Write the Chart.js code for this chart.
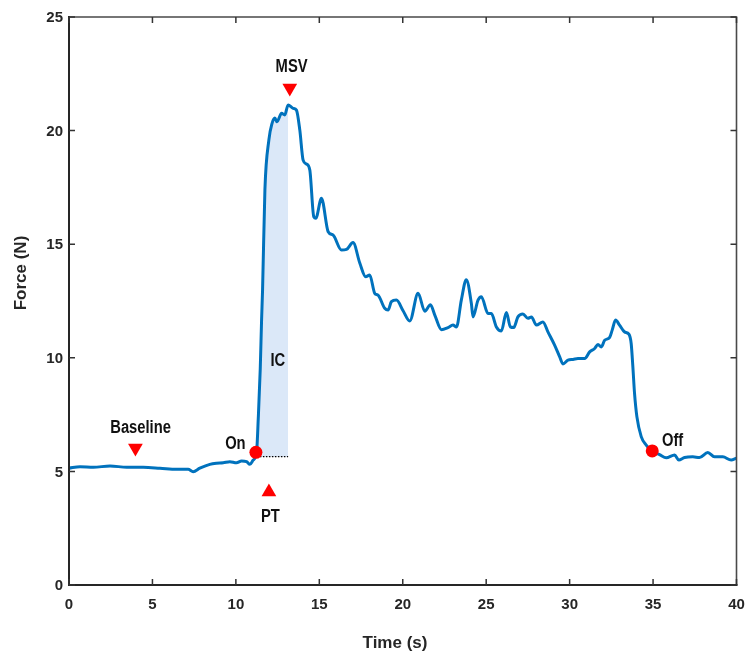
<!DOCTYPE html>
<html>
<head>
<meta charset="utf-8">
<script src="https://cdn.jsdelivr.net/npm/chart.js@4/dist/chart.umd.min.js"></script>
<style>
  html, body { margin: 0; padding: 0; background: #ffffff; overflow: hidden; }
  #wrap { width: 745px; height: 652px; position: relative; }
</style>
</head>
<body>
<div id="wrap"><canvas id="c"></canvas></div>
<script>
// ---- data ----
const timeS = [0,0.66,1.46,2.46,3.46,4.45,5.45,6.45,7.14,7.44,
  7.84,8.44,8.84,9.24,9.64,10.04,10.34,10.64,10.84,11.04,
  11.24,11.34,11.46,11.54,11.6,11.74,11.98,12.16,12.34,12.46,
  12.74,12.93,13.13,13.43,13.63,13.83,14.03,14.23,14.43,14.67,
  14.79,15.13,15.53,15.83,16.33,16.63,17.02,17.43,17.78,18.02,
  18.32,18.52,18.92,19.12,19.32,19.62,20.02,20.42,20.92,21.32,
  21.66,21.92,22.32,22.71,23.01,23.22,23.51,23.81,24.11,24.21,
  24.51,24.71,25.11,25.31,25.61,25.91,26.21,26.45,26.65,26.9,
  27.2,27.5,27.71,28.01,28.4,28.7,29.1,29.4,29.6,29.9,
  30.2,30.5,30.9,31.2,31.5,31.7,31.9,32.1,32.4,32.56,
  32.75,32.99,33.29,33.55,33.69,33.79,33.89,34.03,34.29,34.59,
  34.95,35.39,35.79,36.29,36.54,36.89,37.38,37.78,38.28,38.68,
  39.18,39.68,40];
const forceN = [5.14,5.21,5.18,5.24,5.18,5.18,5.14,5.09,5.09,4.99,
  5.14,5.31,5.36,5.38,5.43,5.38,5.46,5.43,5.31,5.50,
  5.84,7.3,9.5,11.66,13.0,17.4,19.6,20.3,20.55,20.39,
  20.76,20.69,21.13,20.98,20.9,20.03,18.7,18.53,18.27,16.2,
  16.14,17.02,15.55,15.4,14.74,14.77,15.07,14.16,13.57,13.64,
  12.84,12.76,12.18,12.1,12.47,12.54,12.07,11.62,12.84,12.05,
  12.33,11.88,11.24,11.33,11.44,11.36,12.54,13.44,12.4,11.8,
  12.54,12.69,11.95,11.95,11.36,11.18,11.99,11.36,11.33,11.8,
  11.93,11.74,11.8,11.44,11.58,11.14,10.56,10.05,9.73,9.9,
  9.93,9.97,9.97,10.26,10.41,10.59,10.48,10.77,10.9,11.24,
  11.66,11.44,11.14,11.04,10.62,9.6,8.43,7.41,6.53,6.16,
  5.88,5.74,5.6,5.72,5.5,5.61,5.64,5.61,5.83,5.64,
  5.64,5.5,5.58];

const xTicks = [0,5,10,15,20,25,30,35,40];
const yTicks = [0,5,10,15,20,25];

// event markers
const onsetT = 11.2,  onsetF = 5.84;
const offsetT = 34.95, offsetF = 5.90;
const icStartT = 11.24, icEndT = 13.13, icLevel = 5.65;
const dotLineT = [11.44, 13.13];
const downTriT = [13.23, 3.98];   // MSV, Baseline
const downTriF = [21.88, 6.03];
const upTriT = [11.98];           // PT
const upTriF = [4.09];

// text labels
const labelText = ["MSV", "Baseline", "On", "IC", "PT", "Off"];
const labelT    = [13.34, 4.29, 9.97, 12.51, 12.07, 36.17];
const labelF    = [22.78, 6.90, 6.21, 9.84, 3.01, 6.34];

// ---- build datasets ----
const curve = timeS.map((t, i) => ({x: t, y: forceN[i]}));
const icArea = curve.filter(p => p.x >= icStartT && p.x <= icEndT);

const BLUE = 'rgb(0,114,189)';
const RED = '#ff0000';

const axisPlugin = {
  id: 'matlabAxes',
  afterDraw(chart) {
    const ctx = chart.ctx;
    const xs = chart.scales.x, ys = chart.scales.y;
    const a = chart.chartArea;
    ctx.save();
    // box: top/right lighter, left/bottom darker
    ctx.lineCap = 'square';
    ctx.strokeStyle = '#4a4a4a';
    ctx.lineWidth = 1.6;
    ctx.beginPath();
    ctx.moveTo(a.left, a.top); ctx.lineTo(a.right, a.top); ctx.lineTo(a.right, a.bottom);
    ctx.stroke();
    ctx.strokeStyle = '#262626';
    ctx.lineWidth = 2;
    ctx.beginPath();
    ctx.moveTo(a.left, a.top); ctx.lineTo(a.left, a.bottom); ctx.lineTo(a.right, a.bottom);
    ctx.stroke();
    // inward ticks
    ctx.lineCap = 'butt';
    ctx.strokeStyle = '#333333';
    ctx.lineWidth = 1.5;
    const tl = 6;
    ctx.beginPath();
    xTicks.forEach(v => {
      const px = xs.getPixelForValue(v);
      ctx.moveTo(px, a.bottom); ctx.lineTo(px, a.bottom - tl);
      ctx.moveTo(px, a.top); ctx.lineTo(px, a.top + tl);
    });
    yTicks.forEach(v => {
      const py = ys.getPixelForValue(v);
      ctx.moveTo(a.left, py); ctx.lineTo(a.left + tl, py);
      ctx.moveTo(a.right, py); ctx.lineTo(a.right - tl, py);
    });
    ctx.stroke();
    // tick labels
    ctx.fillStyle = '#262626';
    ctx.font = "bold 15px 'Liberation Sans', Arial, sans-serif";
    ctx.textAlign = 'center';
    ctx.textBaseline = 'middle';
    xTicks.forEach(v => {
      ctx.fillText(String(v), xs.getPixelForValue(v), a.bottom + 20);
    });
    ctx.textAlign = 'right';
    yTicks.forEach(v => {
      ctx.fillText(String(v), a.left - 6, ys.getPixelForValue(v) + 1);
    });
    // axis titles
    ctx.font = "bold 17px 'Liberation Sans', Arial, sans-serif";
    ctx.textAlign = 'center';
    ctx.fillText('Time (s)', 395, 643);
    ctx.translate(21, 273);
    ctx.rotate(-Math.PI / 2);
    ctx.fillText('Force (N)', 0, 0);
    ctx.restore();

    // annotations (narrow bold face, emulated by horizontal scaling)
    ctx.save();
    ctx.fillStyle = '#111111';
    ctx.font = "bold 18px 'Liberation Sans', Arial, sans-serif";
    ctx.textAlign = 'center';
    ctx.textBaseline = 'middle';
    const sx = 0.82;
    labelText.forEach((txt, i) => {
      const px = xs.getPixelForValue(labelT[i]);
      const py = ys.getPixelForValue(labelF[i]);
      ctx.save();
      ctx.translate(px, py);
      ctx.scale(sx, 1);
      ctx.fillText(txt, 0, 0);
      ctx.restore();
    });
    ctx.restore();
  }
};

new Chart(document.getElementById('c'), {
  type: 'scatter',
  data: {
    datasets: [
      { // event dots
        data: [{x: onsetT, y: onsetF}, {x: offsetT, y: offsetF}],
        showLine: false, pointRadius: 6.5, pointStyle: 'circle',
        pointBackgroundColor: RED, pointBorderColor: RED, pointBorderWidth: 0,
        order: -2
      },
      { // downward triangles
        data: downTriT.map((t, i) => ({x: t, y: downTriF[i]})),
        showLine: false, pointRadius: 8.5, pointStyle: 'triangle', rotation: 180,
        pointBackgroundColor: RED, pointBorderColor: RED, pointBorderWidth: 0,
        order: -2
      },
      { // upward triangle
        data: upTriT.map((t, i) => ({x: t, y: upTriF[i]})),
        showLine: false, pointRadius: 8.5, pointStyle: 'triangle', rotation: 0,
        pointBackgroundColor: RED, pointBorderColor: RED, pointBorderWidth: 0,
        order: -2
      },
      { // force curve
        data: curve,
        showLine: true, borderColor: BLUE, borderWidth: 3,
        pointRadius: 0, cubicInterpolationMode: 'monotone', fill: false,
        order: 0
      },
      { // dotted level line
        data: dotLineT.map(t => ({x: t, y: icLevel})),
        showLine: true, borderColor: '#000000', borderWidth: 1.2, borderDash: [1.5, 1.5],
        pointRadius: 0, fill: false,
        order: 1
      },
      { // IC area
        data: icArea,
        showLine: true, borderWidth: 0, borderColor: 'rgba(0,0,0,0)',
        backgroundColor: '#dbe8f8', cubicInterpolationMode: 'monotone',
        pointRadius: 0, fill: {value: icLevel},
        order: 2
      }
    ]
  },
  options: {
    responsive: true,
    maintainAspectRatio: false,
    animation: false,
    events: [],
    layout: { padding: { left: 0, top: 17, right: 8, bottom: 0 } },
    plugins: { legend: { display: false }, tooltip: { enabled: false } },
    scales: {
      x: {
        type: 'linear', min: 0, max: 40,
        ticks: { display: false, stepSize: 5 },
        grid: { display: false }, border: { display: false },
        afterFit(s) { s.height = 67; }
      },
      y: {
        type: 'linear', min: 0, max: 25,
        ticks: { display: false, stepSize: 5 },
        grid: { display: false }, border: { display: false },
        afterFit(s) { s.width = 69; }
      }
    }
  },
  plugins: [axisPlugin]
});
</script>
</body>
</html>
